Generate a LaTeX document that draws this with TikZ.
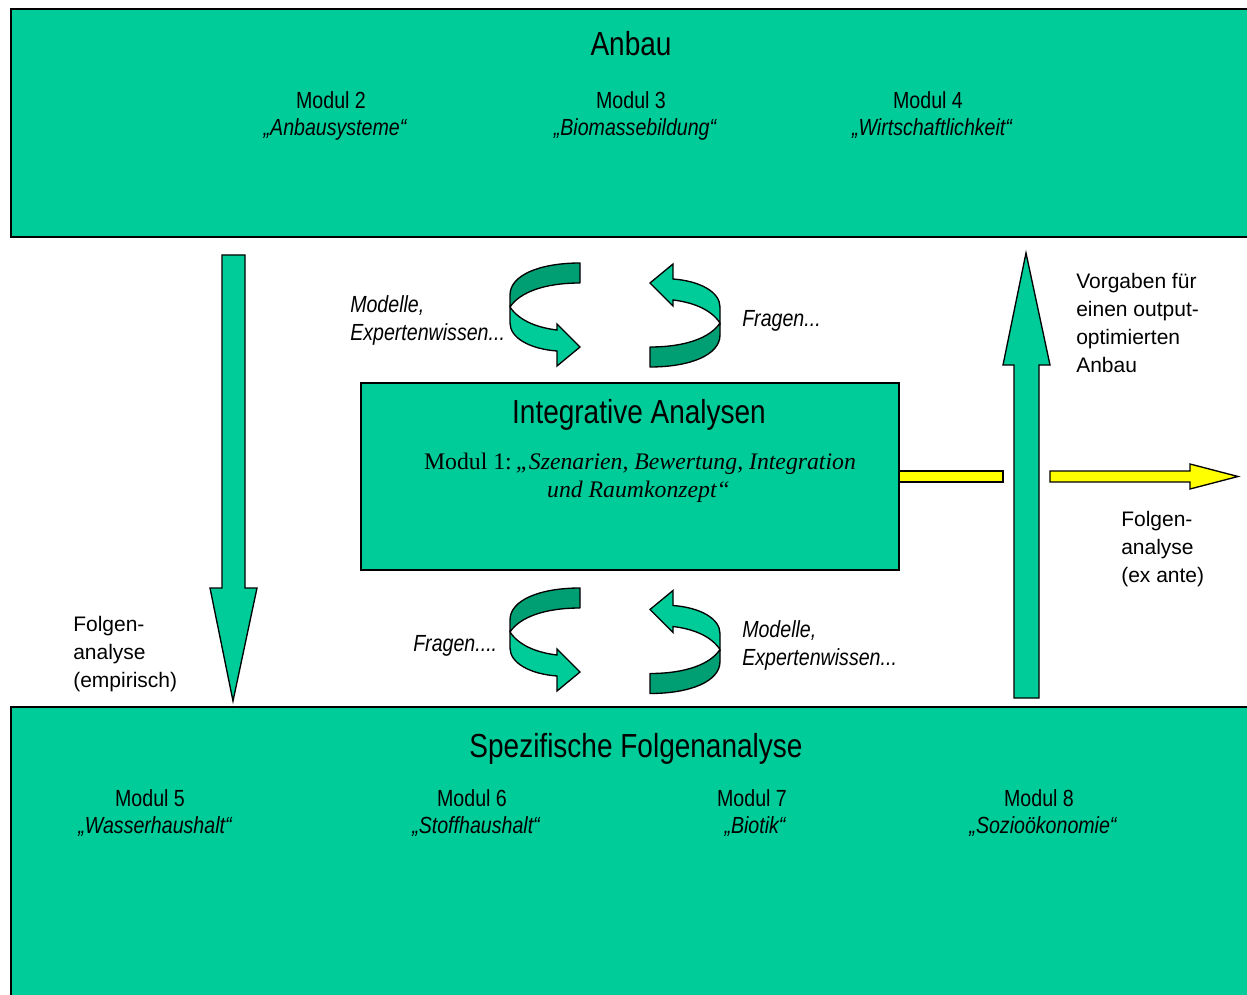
\documentclass[tikz,border=0pt]{standalone}
\usepackage{fontspec}
\setmainfont{Liberation Sans}
\newfontfamily\condfont[FakeStretch=0.84]{Liberation Sans}
\newfontfamily\timesfont{Liberation Serif}
\definecolor{mygreen}{RGB}{0,204,153}
\definecolor{darkgreen}{RGB}{0,158,115}
\definecolor{myyellow}{RGB}{255,255,0}
\tikzset{
  panel/.style={draw=black, line width=1.3pt, fill=mygreen},
  greenarrow/.style={draw=black, line width=1pt, fill=mygreen, line join=miter},
  backband/.style={draw=black, line width=1pt, fill=darkgreen, line join=round},
  yellowshape/.style={draw=black, line width=1pt, fill=myyellow},
  titletext/.style={font=\condfont\fontsize{25}{30}\selectfont, anchor=base, inner sep=0pt},
  modul/.style={font=\condfont\fontsize{17.5}{21}\selectfont, anchor=base, inner sep=0pt},
  modname/.style={font=\condfont\itshape\fontsize{17.5}{21}\selectfont, anchor=base, inner sep=0pt},
  sidelabel/.style={font=\fontsize{15.75}{20.8}\selectfont, align=left, anchor=base west, inner sep=0pt},
  arrowlabel/.style={font=\condfont\itshape\fontsize{17.5}{21}\selectfont, align=left, anchor=base west, inner sep=0pt},
  twist/.pic={
    \path[backband] (35,-51.5) .. controls (-5,-51.5) and (-35,-39.5) .. (-35,-19.5)
      -- (-35,-7.5) .. controls (-25,-22.5) and (0,-31.5) .. (35,-31.5) -- cycle;
    \path[greenarrow] (-35,-7.5) .. controls (-25,7.5) and (-5,13.5) .. (12,15.5)
      -- (12,9.5) -- (35,32.5) -- (12,51.5) -- (12,36.5)
      .. controls (-15,34.5) and (-35,23.5) .. (-35,8.5) -- cycle;
  }
}
\begin{document}
\begin{tikzpicture}[x=0.75pt,y=-0.75pt]
\useasboundingbox (0,0) rectangle (1247,995);
\clip (0,0) rectangle (1247,995);

% panels
\draw[panel] (11,9) rectangle (1265,237);
\draw[panel] (11,707) rectangle (1265,1015);
\draw[panel] (361,383) rectangle (899,570);
\coordinate (midR) at (899,476.5);

% top panel texts
\node[titletext] (anbau) at (631,56) {Anbau};
\node[modul] (m2) at (331,109) {Modul 2};
\node[modname] (m2n) at (335,136) {„Anbausysteme“};
\node[modul] (m3) at (631,109) {Modul 3};
\node[modname] (m3n) at (635,136) {„Biomassebildung“};
\node[modul] (m4) at (928,109) {Modul 4};
\node[modname] (m4n) at (932,136) {„Wirtschaftlichkeit“};

% bottom panel texts
\node[titletext] (spez) at (636,757) {Spezifische Folgenanalyse};
\node[modul] (m5) at (150,806) {Modul 5};
\node[modname] (m5n) at (155,833) {„Wasserhaushalt“};
\node[modul] (m6) at (472,806) {Modul 6};
\node[modname] (m6n) at (476,833) {„Stoffhaushalt“};
\node[modul] (m7) at (752,806) {Modul 7};
\node[modname] (m7n) at (755,833) {„Biotik“};
\node[modul] (m8) at (1039,806) {Modul 8};
\node[modname] (m8n) at (1043,833) {„Sozioökonomie“};

% middle panel texts
\node[titletext] (integ) at (639,423) {Integrative Analysen};
\node[font=\timesfont\fontsize{17.8}{21}\selectfont, anchor=base, inner sep=0pt] (m1a) at (640,469)
  {Modul 1:\,\textit{„Szenarien, Bewertung, Integration}};
\node[font=\timesfont\fontsize{17.8}{21}\selectfont, anchor=base, inner sep=0pt] (m1b) at (638.5,497)
  {\textit{und Raumkonzept“}};

% vertical arrows
\path[greenarrow] (222,255) -- (245,255) -- (245,588) -- (257,588) -- (233,701)
  -- (210,588) -- (222,588) -- cycle;
\path[greenarrow] (1014,698) -- (1039,698) -- (1039,365) -- (1050,365) -- (1026,253)
  -- (1003,365) -- (1014,365) -- cycle;

% yellow output
\path[yellowshape] (midR) ++(0,-5.5) rectangle (1003,482);
\path[yellowshape] (1050,471) -- (1190,471) -- (1190,464) -- (1238,476.5) -- (1190,489)
  -- (1190,482) -- (1050,482) -- cycle;

% twisted arrows
\pic at (545,314.5) {twist};
\pic[rotate=180] at (685,315.5) {twist};
\pic at (545,639.5) {twist};
\pic[rotate=180] at (685,642) {twist};

% labels (base anchor = last line)
\node[arrowlabel] (lab1) at (350,340) {Modelle,\\Expertenwissen...};
\node[arrowlabel] (lab2) at (742,326) {Fragen...};
\node[arrowlabel] (lab3) at (413,651) {Fragen....};
\node[arrowlabel] (lab4) at (742,665) {Modelle,\\Expertenwissen...};

\node[sidelabel] (vorg) at (1076,372) {Vorgaben für\\einen output-\\optimierten\\Anbau};
\node[sidelabel] (fexa) at (1121,582) {Folgen-\\analyse\\(ex ante)};
\node[sidelabel] (femp) at (73,687) {Folgen-\\analyse\\(empirisch)};
\end{tikzpicture}
\end{document}
